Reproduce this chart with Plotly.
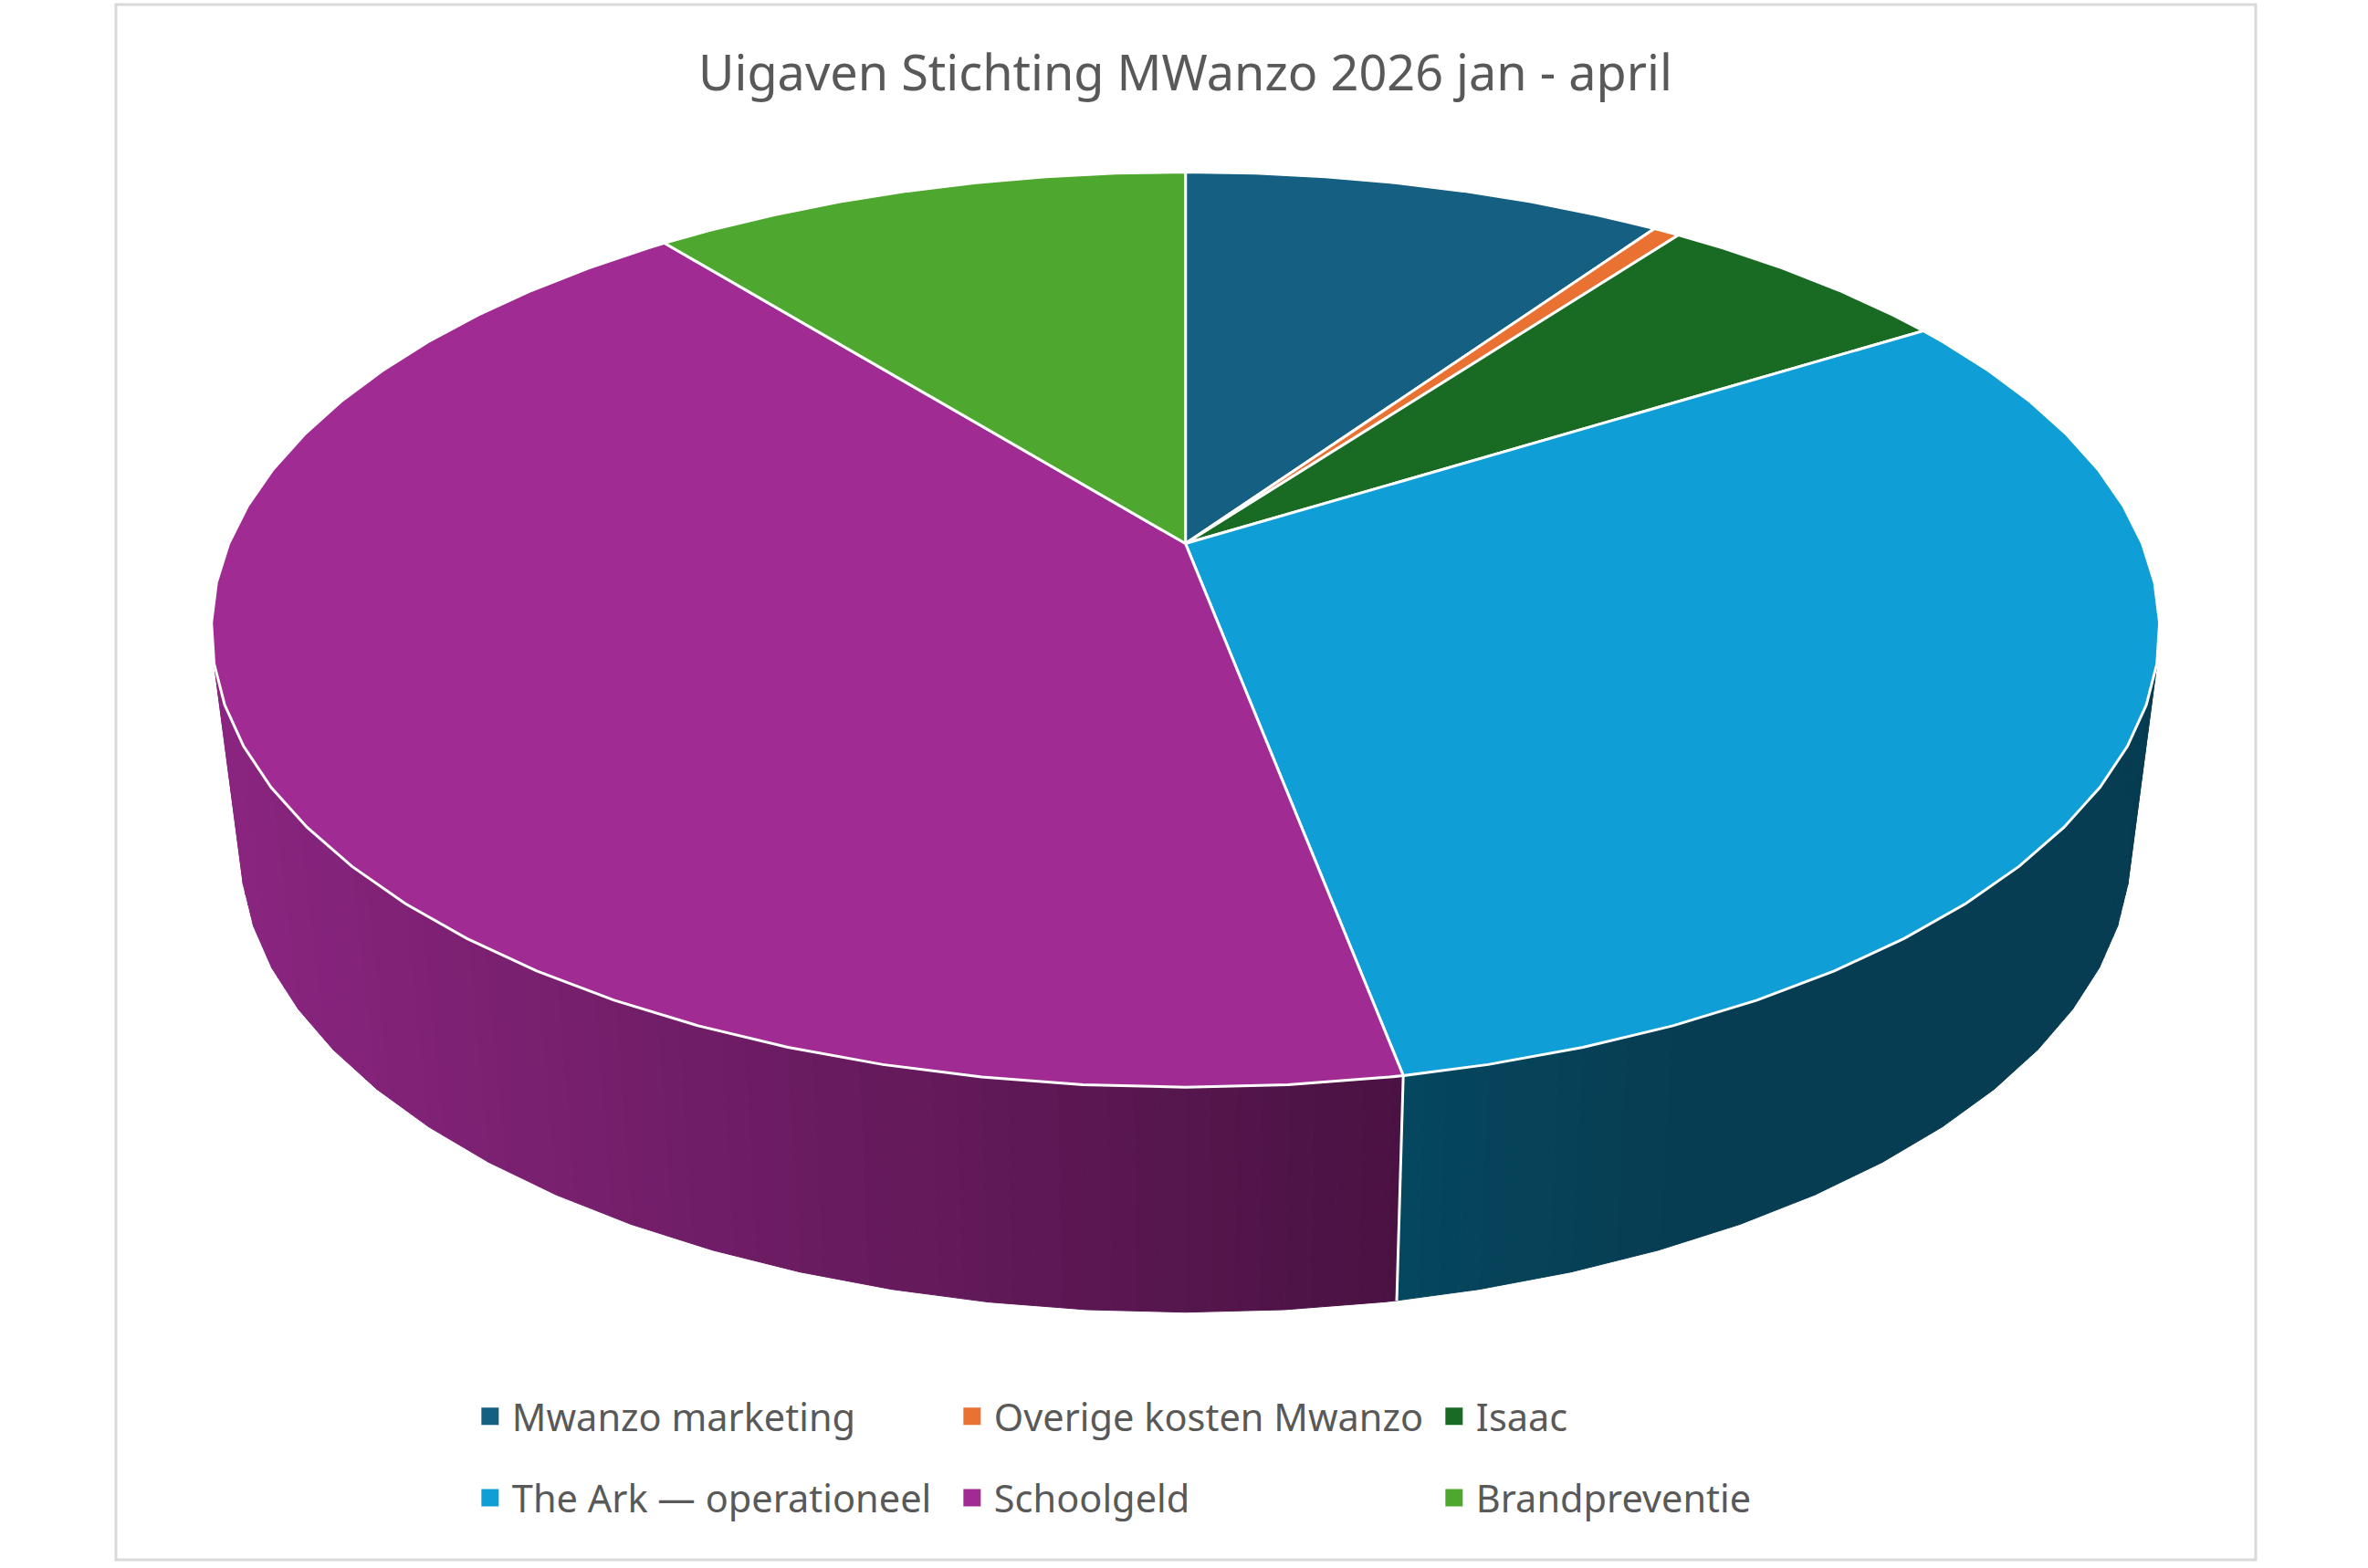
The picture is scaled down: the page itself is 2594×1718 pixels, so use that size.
import numpy as np
import plotly.graph_objects as go

# ---- data (share of the total, percent) ----
labels = ["Mwanzo marketing", "Overige kosten Mwanzo", "Isaac",
          "The Ark — operationeel", "Schoolgeld", "Brandpreventie"]
shares = [9.58, 0.53, 6.00, 30.92, 42.23, 10.74]
colors = ["#156082", "#E97132", "#196B24", "#0F9ED5", "#A02B93", "#4EA72E"]
# side wall colours, left end -> right end of the gradient
wall_colors = {"The Ark — operationeel": ("#05475F", "#073D52"),
               "Schoolgeld": ("#8A2580", "#4A1242")}
title = "Uigaven Stichting MWanzo 2026 jan - april"

W, H = 2594, 1718
S = W / 1568  # measured the pie in the smaller view, hence the scale
CX = 785 * S
G = 0.1881  # perspective


def project(theta_deg, a, f, e):
    # angle clockwise from the top of the pie -> page position
    t = np.radians(theta_deg)
    u, v = np.sin(t), np.cos(t)
    d = 1 + G * v
    return CX + a * S * u / d, (f + e * v) * S / d


def top_rim(theta):
    return project(theta, 633.5, 360, -224.6)


def bottom_rim(theta):
    return project(theta, 614.5, 505.6, -200)


def rim_angles(start, end):
    # Excel draws the rim as a polygon with 5 degree steps
    steps = np.arange(np.ceil(start / 5) * 5, end, 5.0)
    return np.unique(np.concatenate([[start], steps, [end]]))


def mix(c1, c2, k):
    a = [int(c1[i:i + 2], 16) for i in (1, 3, 5)]
    b = [int(c2[i:i + 2], 16) for i in (1, 3, 5)]
    return "rgb({},{},{})".format(*[round(p + (q - p) * k) for p, q in zip(a, b)])


cum = np.concatenate([[0], np.cumsum(shares)]) * 360 / sum(shares)
fig = go.Figure()

# side wall first, made of thin strips for the gradient
for name, start, end in zip(labels, cum[:-1], cum[1:]):
    if name not in wall_colors:
        continue
    left, right = wall_colors[name]
    ang = rim_angles(start, end)
    ang = ang[np.cos(np.radians(ang)) < 0.35]
    xt, yt = top_rim(ang)
    xb, yb = bottom_rim(ang)
    idx = np.arange(len(ang))
    fine = np.linspace(0, len(ang) - 1, (len(ang) - 1) * 4 + 1)
    xt, yt = np.interp(fine, idx, xt), np.interp(fine, idx, yt)
    xb, yb = np.interp(fine, idx, xb), np.interp(fine, idx, yb)
    if name == "Schoolgeld":
        x0, x1 = 157 * S, 925 * S
    else:
        x0, x1 = 925 * S, 1100 * S
    for i in range(len(fine) - 1):
        k = min(max((xb[i] + xb[i + 1]) / 2 - x0, 0) / (x1 - x0), 1)
        c = mix(left, right, k)
        fig.add_trace(go.Scatter(
            x=[xt[i], xt[i + 1], xb[i + 1], xb[i], xt[i]],
            y=[yt[i], yt[i + 1], yb[i + 1], yb[i], yt[i]],
            mode="lines", fill="toself", fillcolor=c,
            line=dict(color=c, width=1), showlegend=False, hoverinfo="skip"))

# white seam on the wall between the Ark and Schoolgeld
seam = cum[4]
sx0, sy0 = top_rim(seam)
sx1, sy1 = bottom_rim(seam)
fig.add_trace(go.Scatter(x=[sx0, sx1], y=[sy0, sy1], mode="lines",
                         line=dict(color="white", width=3),
                         showlegend=False, hoverinfo="skip"))

# top of the pie
ax, ay = CX, 360 * S
for name, col, start, end in zip(labels, colors, cum[:-1], cum[1:]):
    rx, ry = top_rim(rim_angles(start, end))
    fig.add_trace(go.Scatter(
        x=np.concatenate([[ax], rx, [ax]]), y=np.concatenate([[ay], ry, [ay]]),
        mode="lines", fill="toself", fillcolor=col,
        line=dict(color="white", width=3), showlegend=False, name=name,
        hoverinfo="name"))

# legend keys, one legend per row because of the wide row spacing
for i, (name, col) in enumerate(zip(labels, colors)):
    fig.add_trace(go.Scatter(
        x=[None], y=[None], mode="markers", name=name,
        legend="legend" if i < 3 else "legend2",
        marker=dict(symbol="square", size=16, color=col,
                    line=dict(color=col, width=3))))

legend_style = dict(orientation="h", xanchor="left", yanchor="middle",
                    x=0.1977, entrywidth=475, entrywidthmode="pixels",
                    itemwidth=38, itemclick=False, itemdoubleclick=False,
                    bgcolor="rgba(0,0,0,0)",
                    font=dict(family="Noto Sans", size=41.5, color="#595959"))

fig.update_layout(
    width=W, height=H, margin=dict(l=0, r=0, t=0, b=0),
    paper_bgcolor="white", plot_bgcolor="white",
    xaxis=dict(range=[0, W], visible=False),
    yaxis=dict(range=[H, 0], visible=False),
    legend=dict(y=1 - 938 * S / H, **legend_style),
    legend2=dict(y=1 - 992 * S / H, **legend_style),
    annotations=[dict(text=title, x=CX, y=47 * S, xref="x", yref="y",
                      showarrow=False,
                      font=dict(family="Noto Sans", size=54, color="#595959"))],
    shapes=[dict(type="rect", xref="x", yref="y", x0=127, y0=5, x1=2471, y1=1709,
                 line=dict(color="#D9D9D9", width=3), layer="below")],
)

# the page's default body margin would push everything 8px down and right
fig.write_html("out.html", config={"displayModeBar": False},
               post_script="document.body.style.margin = '0';")
